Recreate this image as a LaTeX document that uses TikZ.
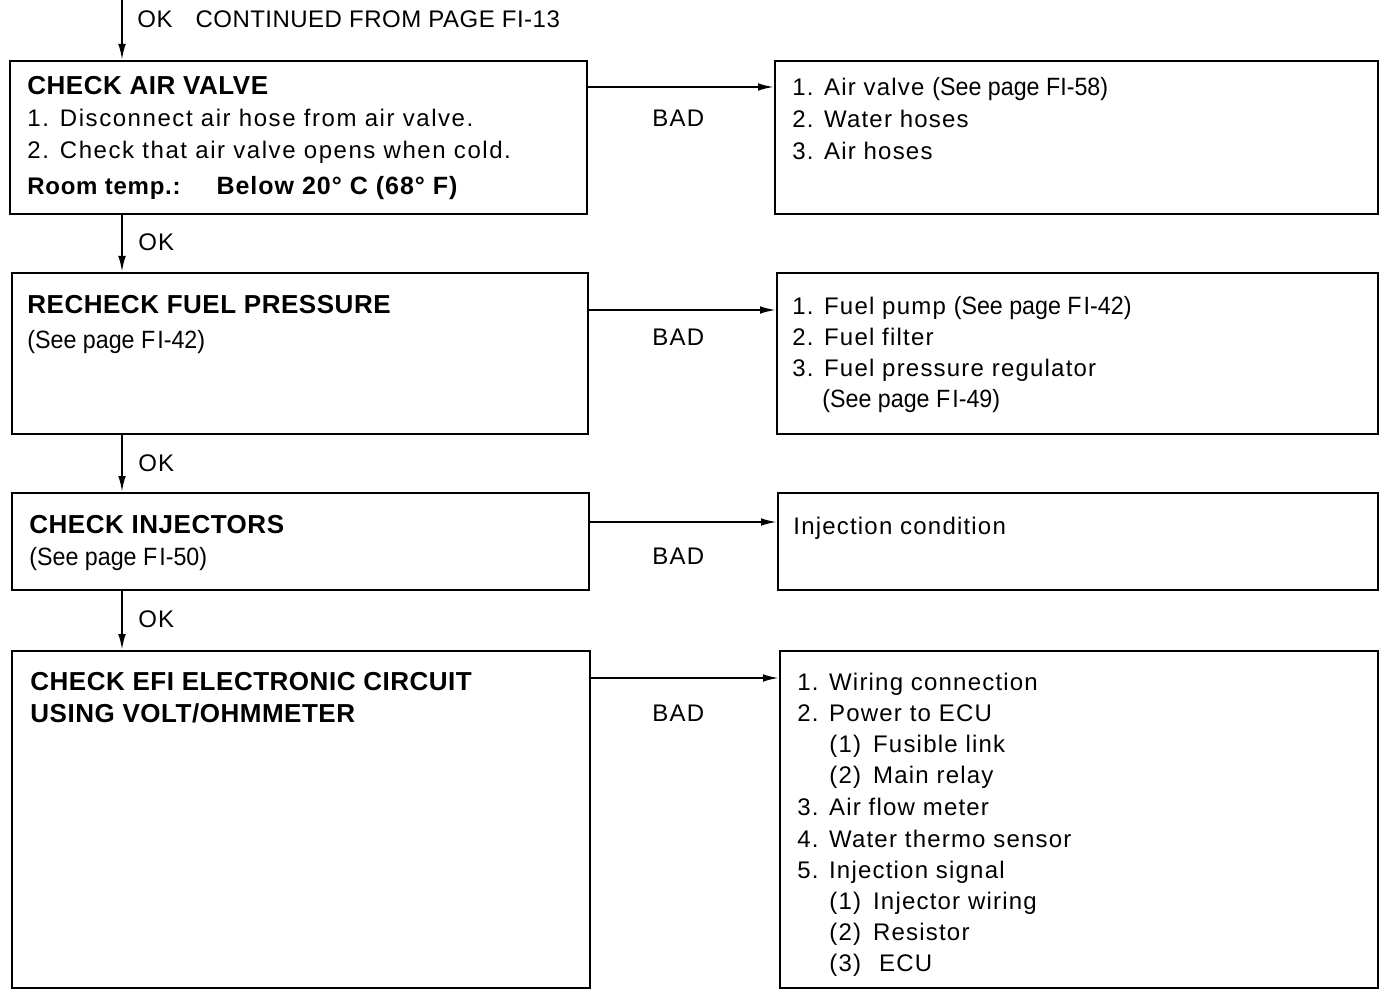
\documentclass[tikz,border=0pt]{standalone}
\usepackage{fontspec}
\setmainfont{Liberation Sans}
\newfontfamily\bodyf[LetterSpace=5]{Liberation Sans}
\newfontfamily\leftf[LetterSpace=6.5]{Liberation Sans}
\newfontfamily\topf[LetterSpace=2]{Liberation Sans}
\newfontfamily\headf[LetterSpace=2]{Liberation Sans}
\newfontfamily\subf[LetterSpace=3]{Liberation Sans}
\newfontfamily\subwf[LetterSpace=4]{Liberation Sans}
\newfontfamily\plainf[FakeStretch=0.93]{Liberation Sans}
\usetikzlibrary{arrows.meta,fit}
\newcommand{\seep}[1]{{\plainf\fontsize{12.5}{14}\selectfont #1}}
\newcommand{\wideb}[1]{{\subwf\bfseries\fontsize{12.5}{14}\selectfont #1}}
\begin{document}
\begin{tikzpicture}[x=0.5pt,y=-0.5pt,
  box/.style={draw, line width=1pt, inner sep=0pt},
  body/.style={anchor=base west, inner sep=0pt, font=\bodyf\fontsize{12}{14}\selectfont},
  lbody/.style={anchor=base west, inner sep=0pt, font=\leftf\fontsize{12}{14}\selectfont},
  toptxt/.style={anchor=base west, inner sep=0pt, font=\topf\fontsize{12}{14}\selectfont},
  head/.style={anchor=base west, inner sep=0pt, font=\headf\bfseries\fontsize{13}{15}\selectfont},
  sub/.style={anchor=base west, inner sep=0pt, font=\subf\bfseries\fontsize{12}{14}\selectfont},
  see/.style={anchor=base west, inner sep=0pt, font=\plainf\fontsize{12.5}{14}\selectfont},
  arr/.style={line width=1pt, -{Latex[length=8pt,width=3.8pt]}},
]
\useasboundingbox (0,0) rectangle (1380,989);

% boxes
\node[box, fit={(10,61) (587,214)}] (L1) {};
\node[box, fit={(775,61) (1378,214)}] (R1) {};
\node[box, fit={(12,273) (588,434)}] (L2) {};
\node[box, fit={(777,273) (1378,434)}] (R2) {};
\node[box, fit={(12,493) (589,590)}] (L3) {};
\node[box, fit={(778,493) (1378,590)}] (R3) {};
\node[box, fit={(12,651) (590,988)}] (L4) {};
\node[box, fit={(780,651) (1378,988)}] (R4) {};

% helper coordinates
\coordinate (top) at (122,0);
\coordinate (vx) at (122,0);
\coordinate (h1) at (0,87);
\coordinate (h2) at (0,310);
\coordinate (h3) at (0,522);
\coordinate (h4) at (0,678);

% vertical connectors
\draw[arr] (top) -- (L1.north -| top);
\draw[arr] (L1.south -| vx) -- (L2.north -| vx);
\draw[arr] (L2.south -| vx) -- (L3.north -| vx);
\draw[arr] (L3.south -| vx) -- (L4.north -| vx);

% horizontal connectors
\draw[arr] (L1.east |- h1) -- (R1.west |- h1);
\draw[arr] (L2.east |- h2) -- (R2.west |- h2);
\draw[arr] (L3.east |- h3) -- (R3.west |- h3);
\draw[arr] (L4.east |- h4) -- (R4.west |- h4);

% labels on connectors
\node[toptxt] (okt) at (137,28) {OK\hspace{11.5pt}CONTINUED FROM PAGE FI-13};
\node[body] (ok1) at (138,251) {OK};
\node[body] (ok2) at (138,471) {OK};
\node[body] (ok3) at (138,627) {OK};
\node[body] (bad1) at (652,127) {BAD};
\node[body] (bad2) at (652,346) {BAD};
\node[body] (bad3) at (652,564) {BAD};
\node[body] (bad4) at (652,721) {BAD};

% box 1
\node[head] (l1a) at (27,95) {CHECK AIR VALVE};
\node[lbody] (l1b) at (27,127) {1. Disconnect air hose from air valve.};
\node[lbody] (l1c) at (27,159) {2. Check that air valve opens when cold.};
\node[sub] (l1d) at (27,195) {Room temp.:\hspace{18pt}\wideb{Below 20° C (68° F)}};
\node[body] (r1a) at (792,96) {1. Air valve \seep{(See page FI-58)}};
\node[body] (r1b) at (792,128) {2. Water hoses};
\node[body] (r1c) at (792,160) {3. Air hoses};

% box 2
\node[head] (l2a) at (27,314) {RECHECK FUEL PRESSURE};
\node[see] (l2b) at (27,349) {(See page F\kern1pt I-42)};
\node[body] (r2a) at (792,315) {1. Fuel pump \seep{(See page F\kern1pt I-42)}};
\node[body] (r2b) at (792,346) {2. Fuel filter};
\node[body] (r2c) at (792,377) {3. Fuel pressure regulator};
\node[see] (r2d) at (822,408) {(See page F\kern1pt I-49)};

% box 3
\node[head] (l3a) at (29,533) {CHECK INJECTORS};
\node[see] (l3b) at (29,565) {(See page F\kern1pt I-50)};
\node[body] (r3a) at (793,534) {Injection condition};

% box 4
\node[head] (l4a) at (30,690) {CHECK EFI ELECTRONIC CIRCUIT};
\node[head] (l4b) at (30,722) {USING VOLT/OHMMETER};
\node[body] (r4a) at (797,690) {1. Wiring connection};
\node[body] (r4b) at (797,721) {2. Power to ECU};
\node[body] (r4c) at (829,752) {(1)\hspace{6pt}Fusible link};
\node[body] (r4d) at (829,783) {(2)\hspace{6pt}Main relay};
\node[body] (r4e) at (797,815) {3. Air flow meter};
\node[body] (r4f) at (797,847) {4. Water thermo sensor};
\node[body] (r4g) at (797,878) {5. Injection signal};
\node[body] (r4h) at (829,909) {(1)\hspace{6pt}Injector wiring};
\node[body] (r4i) at (829,940) {(2)\hspace{6pt}Resistor};
\node[body] (r4j) at (829,971) {(3)\hspace{9pt}ECU};
\end{tikzpicture}
\end{document}
